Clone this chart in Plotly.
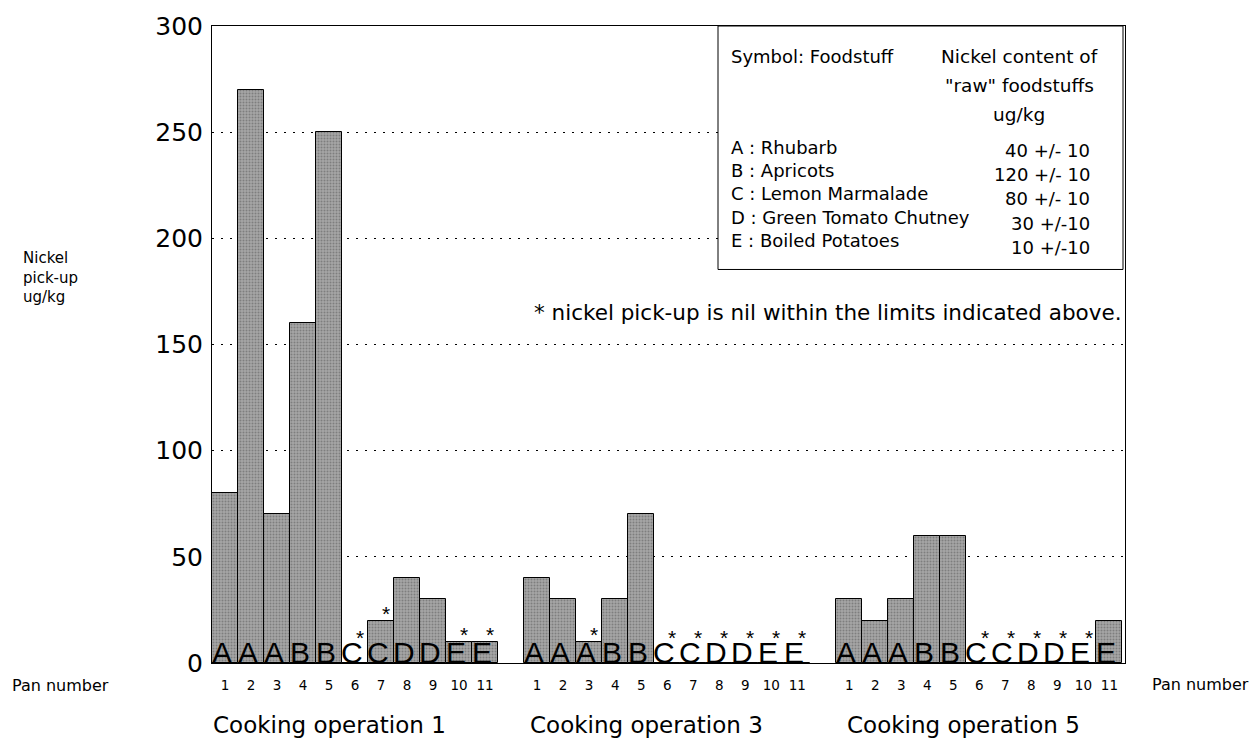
import plotly.graph_objects as go

# ---------------- data ----------------
groups = ["Cooking operation 1", "Cooking operation 3", "Cooking operation 5"]
pans = ["1", "2", "3", "4", "5", "6", "7", "8", "9", "10", "11"]
symbols = ["A", "A", "A", "B", "B", "C", "C", "D", "D", "E", "E"]
op1_values = [80, 270, 70, 160, 250, 0, 20, 40, 30, 10, 10]
op3_values = [40, 30, 10, 30, 70, 0, 0, 0, 0, 0, 0]
op5_values = [30, 20, 30, 60, 60, 0, 0, 0, 0, 0, 20]
op1_nil = [False, False, False, False, False, True, True, False, False, True, True]
op3_nil = [False, False, True, False, False, True, True, True, True, True, True]
op5_nil = [False, False, False, False, False, True, True, True, True, True, False]
y_ticks = [0, 50, 100, 150, 200, 250, 300]

legend_left = ["Symbol: Foodstuff", "A : Rhubarb", "B : Apricots", "C : Lemon Marmalade",
               "D : Green Tomato Chutney", "E : Boiled Potatoes"]
legend_head = ["Nickel content of", "\"raw\" foodstuffs", "ug/kg"]
legend_vals = ["40 +/- 10", "120 +/- 10", "80 +/- 10", "30 +/-10", "10 +/-10"]
note = "* nickel pick-up is nil within the limits indicated above."

all_values = [op1_values, op3_values, op5_values]
all_nil = [op1_nil, op3_nil, op5_nil]

FONT = "DejaVu Sans"
LFONT = "Liberation Sans"

# plot area in pixels
L, R, T, B = 212, 1125, 22, 663
W, H = 1257, 738


def px(x):
    return (x - L) / (R - L)


def py(y):
    return (B - y) / (B - T)


xs, ys, tv, tt = [], [], [], []
for g, vals in enumerate(all_values):
    for p, v in enumerate(vals):
        xs.append(g * 12 + p)
        ys.append(v)
        tv.append(g * 12 + p)
        tt.append(pans[p])

fig = go.Figure()
fig.add_trace(go.Bar(
    x=xs, y=ys, width=1,
    marker=dict(color="#9a9a9a",
                line=dict(color="#000000", width=1),
                pattern=dict(shape=".", fgcolor="#555555", bgcolor="#a6a6a6",
                             size=3, solidity=0.35)),
    showlegend=False, hoverinfo="skip",
))

ann = []
for g, vals in enumerate(all_values):
    for p, v in enumerate(vals):
        x = g * 12 + p
        ann.append(dict(x=x - 0.12, y=0, xref="x", yref="y", text=symbols[p],
                        showarrow=False, yanchor="bottom", yshift=-8,
                        font=dict(family=LFONT, size=30, color="#000")))
        if all_nil[g][p]:
            ann.append(dict(x=x + 0.2, y=max(v, 8.5), xref="x", yref="y", text="*",
                            showarrow=False, yanchor="middle", yshift=7,
                            font=dict(family=LFONT, size=21, color="#000")))

# group titles
for g, name in enumerate(groups):
    ann.append(dict(x=g * 12 + 4 + 0.2 * g, y=py(725), xref="x", yref="paper", text=name,
                    showarrow=False, yanchor="middle",
                    font=dict(family=FONT, size=23, color="#000")))

# pan number labels
ann.append(dict(x=px(10), y=py(686), xref="paper", yref="paper", text="Pan number",
                showarrow=False, xanchor="left", yanchor="middle",
                font=dict(family=FONT, size=16, color="#000")))
ann.append(dict(x=px(1150), y=py(685), xref="paper", yref="paper", text="Pan number",
                showarrow=False, xanchor="left", yanchor="middle",
                font=dict(family=FONT, size=16, color="#000")))

# y axis title
ann.append(dict(x=px(21), y=py(275), xref="paper", yref="paper",
                text="Nickel<br>pick-up<br>ug/kg", align="left",
                showarrow=False, xanchor="left", yanchor="middle",
                font=dict(family=FONT, size=15, color="#000")))

# note
ann.append(dict(x=px(1124), y=py(310), xref="paper", yref="paper", text=note,
                showarrow=False, xanchor="right", yanchor="middle",
                font=dict(family=FONT, size=21.5, color="#000")))

# legend box text
ann.append(dict(x=px(729), y=py(53), xref="paper", yref="paper", text=legend_left[0],
                showarrow=False, xanchor="left", yanchor="middle",
                font=dict(family=FONT, size=18, color="#000")))
for i, t in enumerate(legend_head):
    ann.append(dict(x=px(1019), y=py(53 + i * 29), xref="paper", yref="paper", text=t,
                    showarrow=False, xanchor="center", yanchor="middle",
                    font=dict(family=FONT, size=18.5, color="#000")))
for i in range(5):
    ann.append(dict(x=px(729), y=py(144 + i * 23.5), xref="paper", yref="paper",
                    text=legend_left[i + 1], showarrow=False, xanchor="left",
                    yanchor="middle", font=dict(family=FONT, size=18, color="#000")))
    ann.append(dict(x=px(1092), y=py(147 + i * 24.5), xref="paper", yref="paper",
                    text=legend_vals[i], showarrow=False, xanchor="right",
                    yanchor="middle", font=dict(family=FONT, size=18, color="#000")))

shapes = [dict(type="rect", xref="paper", yref="paper",
               x0=px(718), x1=px(1123), y0=py(267), y1=py(22),
               line=dict(color="#000", width=1), fillcolor="white", layer="above")]

fig.update_layout(
    width=W, height=H,
    margin=dict(l=L, r=W - R, t=T, b=H - B),
    paper_bgcolor="white", plot_bgcolor="white",
    bargap=0,
    annotations=ann,
    shapes=shapes,
    xaxis=dict(range=[-0.5, 34.6], tickvals=tv, ticktext=tt, ticks="",
               showgrid=False, zeroline=False, showline=True, mirror=True,
               linecolor="#000", linewidth=1, ticklabelstandoff=10,
               tickfont=dict(family=FONT, size=13.5, color="#000")),
    yaxis=dict(range=[0, 300], tickvals=y_ticks, ticks="", showgrid=True,
               gridcolor="#000", gridwidth=1, griddash="2px,7px",
               zeroline=False, showline=True, mirror=True, linecolor="#000",
               linewidth=1, ticklabelstandoff=3,
               tickfont=dict(family=FONT, size=25, color="#000")),
)

fig.write_html("out.html", config={"displayModeBar": False},
               post_script="document.body.style.margin='0px';")
